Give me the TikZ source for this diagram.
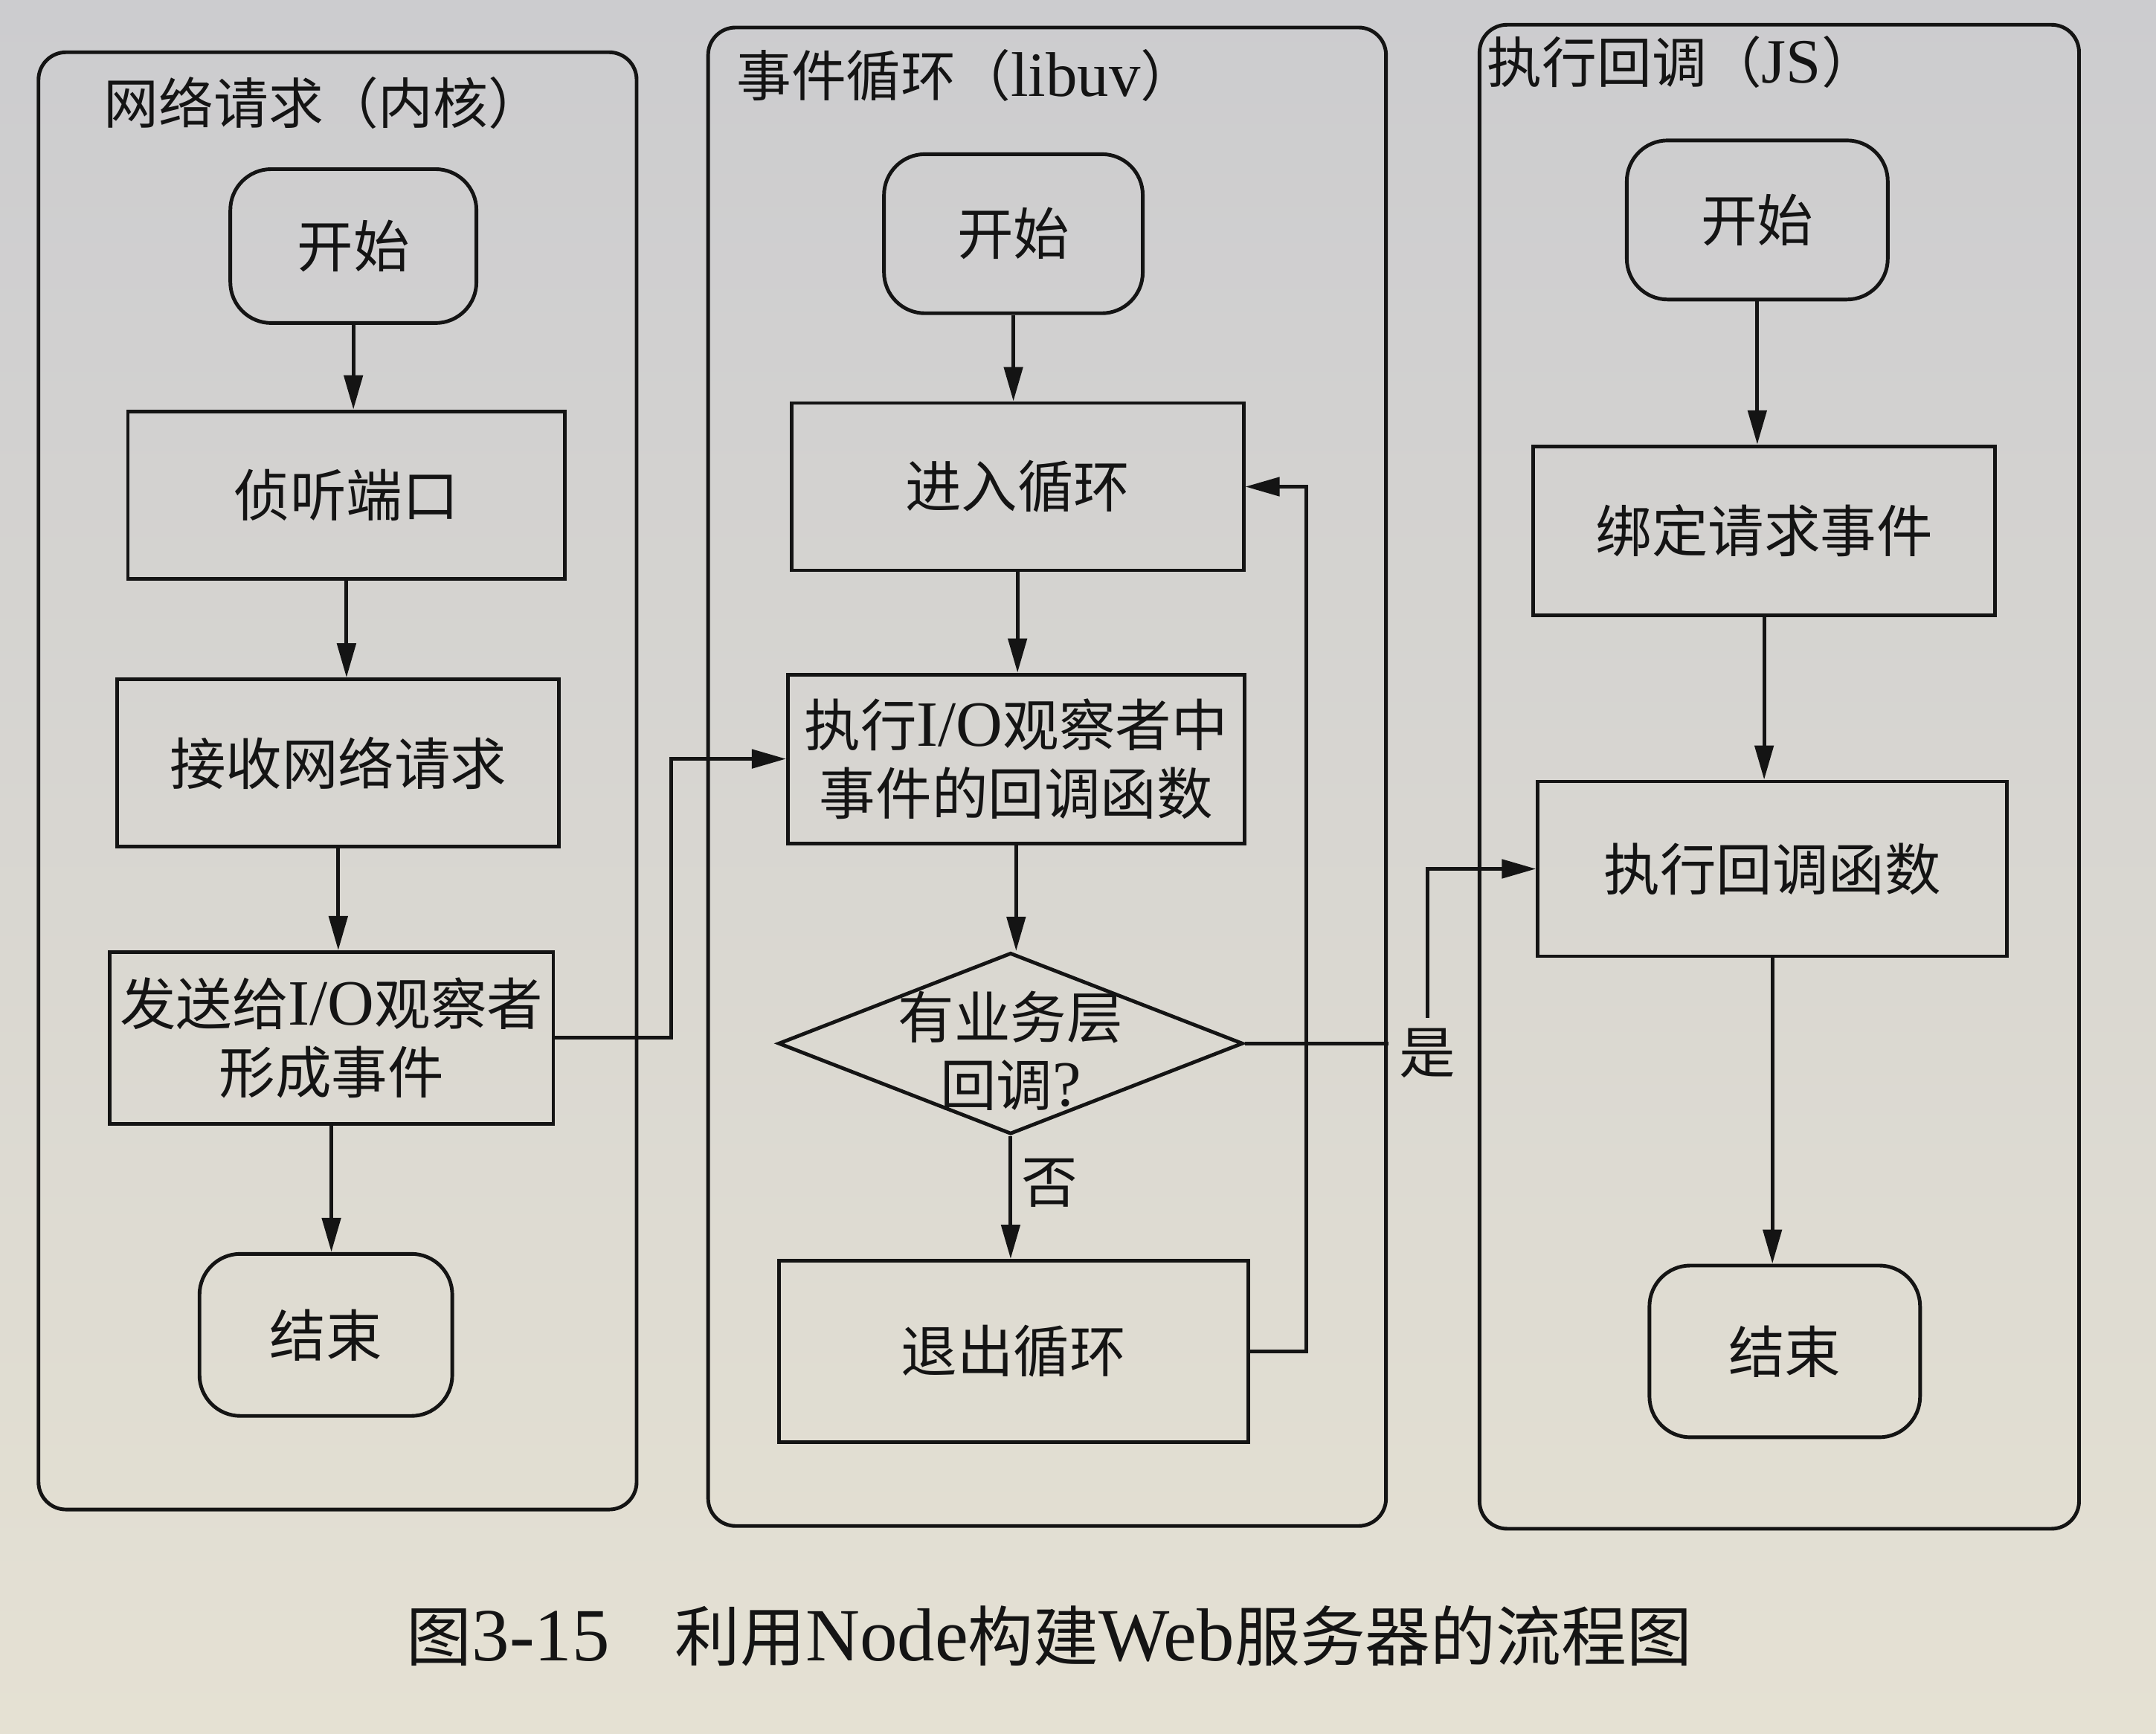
\documentclass[tikz,border=0pt]{standalone}
\usepackage{fontspec}
\setmainfont{Noto Sans CJK SC}
\newfontfamily\lat[Scale=1.15]{Liberation Serif}
\usetikzlibrary{positioning,arrows.meta,shapes.geometric,calc}
\definecolor{paperTop}{RGB}{204,204,207}
\definecolor{paperBot}{RGB}{229,225,211}
\definecolor{ink}{RGB}{20,20,20}

\begin{document}
\begin{tikzpicture}[
  x=0.01849cm, y=-0.01849cm,
  font=\fontsize{21.5}{26}\selectfont,
  line width=1.4pt,
  term/.style={draw=ink, text=ink, rounded corners=5.5mm, align=center, minimum width=3.4cm, minimum height=2.15cm},
  proc/.style={draw=ink, text=ink, align=center, minimum height=2.25cm},
  cond/.style={draw=ink, diamond, minimum width=6.25cm, minimum height=2.44cm, inner sep=0pt},
  lanebox/.style={draw=ink, rounded corners=3.7mm},
  lanetitle/.style={anchor=west, text=ink, font=\fontsize{21}{25}\selectfont},
  arr/.style={-{Triangle[length=4.6mm, width=2.5mm]}, draw=ink, line width=1.4pt},
  lab/.style={text=ink, font=\fontsize{21.5}{26}\selectfont}
]

% ---------------- paper ----------------
\shade[top color=paperTop, bottom color=paperBot] (0,0) rectangle (1568,1261);
\useasboundingbox (0,0) rectangle (1568,1261);

% ---------------- lanes ----------------
\draw[lanebox] (28,38) rectangle (463,1098);
\draw[lanebox] (515,20) rectangle (1008,1110);
\draw[lanebox] (1076,18) rectangle (1512,1112);
\node[lanetitle] (kernelT) at (68,75) {网络请求（内核）};
\node[lanetitle] (loopT) at (528,55) {事件循环（{\lat libuv}）};
\node[lanetitle] (jsT) at (1074,45) {执行回调（{\lat JS}）};

% ---------------- kernel column ----------------
\node[term, minimum width=3.31cm, minimum height=2.07cm] (start1) at (257,179) {开始};
\node[proc, minimum width=5.88cm] (listen) at (252,360) {侦听端口};
\node[proc, minimum width=5.94cm] (recv) at (246,555) {接收网络请求};
\node[proc, minimum width=5.97cm, minimum height=2.31cm] (send) at (241,755) {发送给{\lat I/O}观察者\\形成事件};
\node[term, minimum height=2.18cm] (end1) at (237,971) {结束};

\draw[arr] (start1.south) -- (start1.south |- listen.north);
\draw[arr] (listen.south) -- (listen.south |- recv.north);
\draw[arr] (recv.south) -- (recv.south |- send.north);
\draw[arr] (send.south) -- (send.south |- end1.north);

% ---------------- libuv column ----------------
\node[term, minimum width=3.48cm, minimum height=2.14cm] (start2) at (737,170) {开始};
\node[proc, minimum width=6.08cm] (loopin) at (740,354) {进入循环};
\node[proc, minimum width=6.14cm, minimum height=2.27cm] (runio) at (739,552) {执行{\lat I/O}观察者中\\事件的回调函数};
\node[cond, label={[align=center, text=ink, yshift=-1mm]center:有业务层\\回调{\lat ?}}] (dec) at (735,759) {};
\node[proc, minimum width=6.31cm, minimum height=2.44cm] (exitloop) at (737,983) {退出循环};

\draw[arr] (start2.south) -- (start2.south |- loopin.north);
\draw[arr] (loopin.south) -- (loopin.south |- runio.north);
\draw[arr] (runio.south) -- (runio.south |- dec.north);
\draw[arr] (dec.south) -- node[lab, right, pos=0.38] (no) {否} (dec.south |- exitloop.north);

% loop back to the entry
\coordinate (back) at (950,0);
\draw[arr] (exitloop.east) -- (exitloop.east -| back) -- (back |- loopin.east) -- (loopin.east);

% event handed over from the kernel
\coordinate (jog) at (488,0);
\draw[arr] (send.east) -- (send.east -| jog) -- (jog |- runio.west) -- (runio.west);

% ---------------- JS column ----------------
\node[term, minimum width=3.51cm, minimum height=2.14cm] (start3) at (1278,160) {开始};
\node[proc, minimum width=6.21cm, minimum height=2.27cm] (bind) at (1283,386) {绑定请求事件};
\node[proc, minimum width=6.31cm, minimum height=2.35cm] (exec) at (1289,632) {执行回调函数};
\node[term, minimum width=3.64cm, minimum height=2.31cm] (end3) at (1298,983) {结束};

\draw[arr] (start3.south) -- (start3.south |- bind.north);
\draw[arr] (bind.south) -- (bind.south |- exec.north);
\draw[arr] (exec.south) -- (exec.south |- end3.north);

% yes branch into the JS side
\node[lab] (yes) at (1038,766) {是};
\draw[draw=ink] (dec.east) -- (dec.east -| yes.west);
\draw[arr] (yes.north) |- (exec.west);

% ---------------- caption ----------------
\node[anchor=west, text=ink, font=\fontsize{25}{30}\selectfont] (caption) at (288,1190) {图{\lat 3-15}\quad 利用{\lat Node}构建{\lat Web}服务器的流程图};

\end{tikzpicture}
\end{document}
